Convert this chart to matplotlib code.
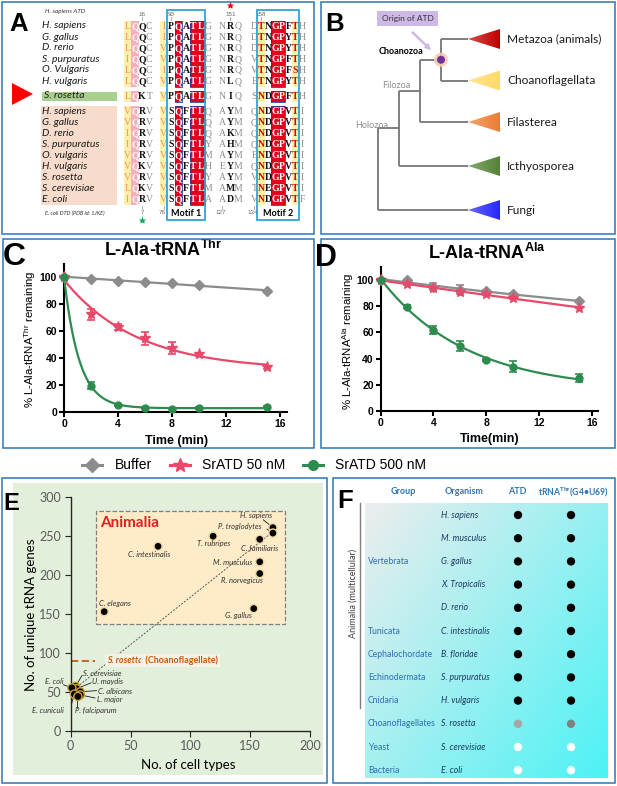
import numpy as np
import matplotlib
matplotlib.use("Agg")
import matplotlib.pyplot as plt
from matplotlib.colors import to_rgb
from matplotlib.patches import Circle, FancyArrowPatch, Polygon, Rectangle

plt.rcParams["font.family"] = ["Liberation Sans", "DejaVu Sans"]
plt.rcParams["mathtext.fontset"] = "custom"
plt.rcParams["mathtext.rm"] = "Liberation Sans"
plt.rcParams["mathtext.bf"] = "Liberation Sans:bold"

W, H = 617, 786
SOFT = ["Lato", "DejaVu Sans"]

# ---------------- A: ATD / DTD alignment ----------------
atd_species = ["H. sapiens", "G. gallus", "D. rerio", "S. purpuratus", "O. Vulgaris", "H. vulgaris"]
atd_seqs = [
    "LQQC IPQATLG NRQ DTNGPFTH",
    "LQQC IPQATLG NRQ DTNGPYTH",
    "LQQC VPQATLG NRQ DTNGPYTH",
    "IQQC VPQATLG NRQ VTNGPFTH",
    "LQQC IPQATLG NRQ VTNGPFSH",
    "LQQC VPQATLG NLQ ETNGPYTH",
]
rosetta_atd_seq = "LQKT VPQATLG NIQ SNDGPFTH"
dtd_species = ["H. sapiens", "G. gallus", "D. rerio", "S. purpuratus", "O. vulgaris",
               "H. vulgaris", "S. rosetta", "S. cerevisiae", "E. coli"]
dtd_seqs = [
    "VQRV VSQFTLQ AYM QNDGPVTI",
    "VQRV VSQFTLQ AYM QNDGPVTI",
    "IQRV VSQFTLQ AKM QNDGPVTI",
    "IQRV VSQFTLY AHM QNDGPVTI",
    "VQRV VSQFTLM AYM ENDGPVTI",
    "VQKV VSQFTLH EYM QNDGPVTI",
    "VQRV VSQFTLY AYM VNDGPVTI",
    "LQKV VSQFTLM AMM TNEGPVTI",
    "IQRV VSQFTLA ADM VNDGPVTF",
]
# y = similar (yellow), Y = similar strong, p = pink, r = identical (red), k = bold, g = grey
col_styles = ["ypkg", "ykrkrrg", "gkg", "gYkrrkYg"]
atd_numbers = ["16", "90", "151", "158"]
dtd_numbers = ["7", "76", "127", "134"]
motif_labels = ["Motif 1", "Motif 2"]

# ---------------- B: tree ----------------
clades = ["Metazoa (animals)", "Choanoflagellata", "Filasterea", "Icthyosporea", "Fungi"]
clade_colors = ["#C00000", "#FFD966", "#ED7D31", "#548235", "#2626FF"]
clade_tree = ((((0, 1), 2), 3), 4)

# ---------------- C / D: deacylation ----------------
series_names = ["Buffer", "SrATD 50 nM", "SrATD 500 nM"]
series_colors = ["#8C8C8C", "#E8486A", "#2E8B4E"]
series_markers = ["D", "*", "o"]
time_min = [0, 2, 4, 6, 8, 10, 15]
thr_buffer = [100, 98.8, 97.2, 96.3, 95.6, 93.8, 89.6]
thr_buffer_err = [0, 0, 0, 0, 0, 0, 0]
thr_50 = [100, 72.5, 63.0, 54.5, 47.5, 42.7, 33.0]
thr_50_err = [0, 4.0, 2.0, 4.5, 4.5, 1.0, 1.0]
thr_500 = [100, 19.5, 5.0, 3.0, 2.5, 3.0, 3.8]
thr_500_err = [0, 2.5, 0.8, 0.5, 0.5, 0.5, 0.5]
ala_buffer = [100, 100, 95.0, 92.5, 91.5, 89.3, 84.0]
ala_buffer_err = [0, 0, 3.0, 3.5, 0.8, 0.8, 0.8]
ala_50 = [100, 96.8, 93.6, 91.0, 89.2, 86.0, 79.0]
ala_50_err = [0, 0.5, 0.5, 0.5, 0.5, 0.5, 0.5]
ala_500 = [100, 79.6, 62.0, 49.6, 38.9, 33.8, 25.0]
ala_500_err = [0, 1.0, 3.0, 3.5, 1.0, 4.0, 3.0]

# ---------------- E: cell types vs tRNA genes ----------------
e_names = ["H. sapiens", "P. troglodytes", "C. familiaris", "M. musculus", "R. norvegicus",
           "G. gallus", "T. rubripes", "C. intestinalis", "C. elegans", "S. cerevisiae",
           "U. maydis", "E. coli", "C. albicans", "L. major", "E. cuniculi", "P. falciparum"]
e_cell_types = [169, 169, 158, 158, 158, 153, 119, 73, 28, 4, 5, 1, 8, 8, 3, 6]
e_trna_genes = [261, 254, 246, 217, 202, 157, 250, 237, 153, 57, 54, 55, 50, 46, 47, 44]
rosetta_trna_genes = 90
rosetta_cell_types = 20
trend_x = [1, 170]
trend_y = [51, 257]

# ---------------- F: presence table ----------------
f_groups = ["", "", "Vertebrata", "", "", "Tunicata", "Cephalochordate", "Echinodermata",
            "Cnidaria", "Choanoflagellates", "Yeast", "Bacteria"]
f_organisms = ["H. sapiens", "M. musculus", "G. gallus", "X. Tropicalis", "D. rerio",
               "C. intestinalis", "B. floridae", "S. purpuratus", "H. vulgaris",
               "S. rosetta", "S. cerevisiae", "E. coli"]
f_atd = [1, 1, 1, 1, 1, 1, 1, 1, 1, 0.35, 0, 0]
f_trna = [1, 1, 1, 1, 1, 1, 1, 1, 1, 0.5, 0, 0]


def px_axes(fig, left, top, right, bottom):
    return fig.add_axes([left / W, 1 - bottom / H, (right - left) / W, (bottom - top) / H])


def fit_decay(t, y):
    t = np.asarray(t, float)
    y = np.asarray(y, float)
    best = None
    for k in np.linspace(0.002, 3.0, 1500):
        basis = np.column_stack([np.ones_like(t), np.exp(-k * t)])
        coef = np.linalg.lstsq(basis, y, rcond=None)[0]
        sse = np.sum((basis @ coef - y) ** 2)
        if best is None or sse < best[0]:
            best = (sse, k, coef)
    return best[1], best[2]


def gradient_triangle(ax, x_tip, x_base, yc, half, color):
    rgb = np.array(to_rgb(color))
    light = rgb + (1 - rgb) * 0.3
    ramp = np.linspace(0, 1, 64)[None, :, None]
    img = np.repeat(light + (rgb - light) * ramp, 2, axis=0)
    tri = Polygon([(x_tip, yc), (x_base, yc - half), (x_base, yc + half)], closed=True,
                  fc="none", ec="none")
    ax.add_patch(tri)
    im = ax.imshow(img, extent=(x_tip, x_base, yc + half, yc - half), aspect="auto",
                   zorder=3, interpolation="bilinear")
    im.set_clip_path(tri)


def kinetics_panel(ax, series, errors):
    tt = np.linspace(0, 15, 300)
    for vals, errs, color, marker in zip(series, errors, series_colors, series_markers):
        k, coef = fit_decay(time_min, vals)
        ax.plot(tt, coef[0] + coef[1] * np.exp(-k * tt), color=color, lw=1.6, zorder=3)
        ax.errorbar(time_min, vals, yerr=errs, fmt="none", ecolor=color, elinewidth=1.2,
                    capsize=3, capthick=1.2, zorder=4, clip_on=False)
        ms = 8 if marker == "*" else 5
        ax.plot(time_min, vals, ls="none", marker=marker, ms=ms, color=color,
                mec=color, zorder=5, clip_on=False)
    ax.set_xlim(0, 16.5)
    ax.set_ylim(0, 110)
    ax.set_xticks([0, 4, 8, 12, 16])
    ax.set_yticks([0, 20, 40, 60, 80, 100])
    ax.set_facecolor("none")
    for s in ["top", "right"]:
        ax.spines[s].set_visible(False)
    for s in ["left", "bottom"]:
        ax.spines[s].set_linewidth(1.5)
    ax.tick_params(width=1.5, length=3.5, labelsize=7.5, pad=1.5)
    for lab in ax.get_xticklabels() + ax.get_yticklabels():
        lab.set_fontweight("bold")


fig = plt.figure(figsize=(W / 100, H / 100), dpi=100)
ov = fig.add_axes([0, 0, 1, 1])
ov.axis("off")

# panel frames
for x0, y0, x1, y1 in [(2, 2, 314, 234), (321, 2, 615, 234), (3, 239, 314, 448),
                       (321, 239, 615, 448), (2, 478, 327, 783), (333, 478, 615, 783)]:
    ov.add_patch(Rectangle((x0, y0), x1 - x0, y1 - y0, fc="none", ec="#2E75B6", lw=1.1, zorder=10))

for letter, x, y, size in [("A", 19, 24, 18.5), ("B", 335, 24, 18.5), ("C", 14, 257, 23),
                           ("D", 325.5, 257.5, 22), ("E", 11.5, 503, 17), ("F", 345, 501.5, 18.5)]:
    ov.text(x, y, letter, fontsize=size, fontweight="bold", ha="center", va="center", zorder=11)

# ---------------- A ----------------
block_c0 = [127.7, 163.8, 222.3, 254.3]
block_pitch = [7.2, 7.4, 8.0, 6.85]
style_map = {
    "y": ("#FFF2A8", "#F2915E", "normal"),
    "Y": ("#FFF2A8", "#D80000", "bold"),
    "p": ("#F6AEBB", "#FFFFFF", "bold"),
    "r": ("#E3001B", "#FFFFFF", "bold"),
    "k": (None, "#111111", "bold"),
    "g": (None, "#8C8C8C", "normal"),
}


def col_x(b, c):
    return block_c0[b] + c * block_pitch[b]


def draw_row(seq, yc, h=11.0):
    for b, block in enumerate(seq.split()):
        pw = block_pitch[b]
        for c, ch in enumerate(block):
            bg, fc, fw = style_map[col_styles[b][c]]
            x = col_x(b, c)
            if bg:
                ov.add_patch(Rectangle((x - pw / 2, yc - h / 2), pw, h, fc=bg, ec="none", zorder=1))
            ov.text(x, yc + 0.5, ch, fontsize=7, family="Liberation Serif", fontweight=fw,
                    color=fc, ha="center", va="center", zorder=3)


def frame_red(y_top, y_bot):
    for b, styles in enumerate(col_styles):
        c = 0
        while c < len(styles):
            if styles[c] == "r":
                c1 = c
                while c1 + 1 < len(styles) and styles[c1 + 1] == "r":
                    c1 += 1
                pw = block_pitch[b]
                x0 = col_x(b, c) - pw / 2
                ov.add_patch(Rectangle((x0, y_top), col_x(b, c1) + pw / 2 - x0, y_bot - y_top,
                                       fc="none", ec="#1F3F8F", lw=0.6, zorder=2))
                c = c1 + 1
            else:
                c += 1


atd_y = [26 + 11 * i for i in range(len(atd_species))]
rosetta_y = 96
dtd_y = [111 + 11.03 * i for i in range(len(dtd_species))]

ov.add_patch(Rectangle((41, 105.5), 76, 99.5, fc="#F8DCCB", ec="none", zorder=0.5))
ov.add_patch(Rectangle((42, 91.5), 75, 9.5, fc="#A9D08E", ec="none", zorder=0.5))
ov.add_patch(Polygon([(12, 83), (12, 105), (33, 94)], closed=True, fc="#FF0000", ec="none"))
ov.text(45, 12, "H. sapiens ATD", fontsize=4.5, style="italic", family=SOFT, va="center", color="#333333")
ov.text(45, 213, "E. coli DTD (PDB id: 1JKE)", fontsize=4, style="italic", family=SOFT, va="center",
        color="#333333")

for name, seq, y in zip(atd_species, atd_seqs, atd_y):
    ov.text(42, y, name, fontsize=7.5, style="italic", family=SOFT, va="center", color="#1A1A1A")
    draw_row(seq, y)
ov.text(44, rosetta_y, "S. rosetta", fontsize=7.5, style="italic", family=SOFT, va="center", color="#1A1A1A")
draw_row(rosetta_atd_seq, rosetta_y)
for name, seq, y in zip(dtd_species, dtd_seqs, dtd_y):
    ov.text(42, y, name, fontsize=7.5, style="italic", family=SOFT, va="center", color="#1A1A1A")
    draw_row(seq, y)
frame_red(atd_y[0] - 5.5, atd_y[-1] + 5.5)
frame_red(rosetta_y - 5.5, rosetta_y + 5.5)
frame_red(dtd_y[0] - 5.5, dtd_y[-1] + 5.5)

num_cols = [(0, 2), (1, 1), (2, 1), (3, 1)]
bottom_cols = [(0, 2), (1, 0), (2, 0), (3, 0)]
for label, (b, c) in zip(atd_numbers, num_cols):
    ov.text(col_x(b, c), 14, label, fontsize=4.5, color="#666666", ha="center", va="center")
    ov.plot([col_x(b, c)] * 2, [17, 19.5], color="#888888", lw=0.5)
for label, (b, c) in zip(dtd_numbers, bottom_cols):
    ov.text(col_x(b, c) - (2 if c == 0 else 0), 213, label, fontsize=4.5, color="#666666",
            ha="center", va="center")
    ov.plot([col_x(b, c)] * 2, [206, 208.5], color="#888888", lw=0.5)
ov.plot(col_x(2, 1), 5, marker="*", ms=6, color="#E8001C", mec="none")
ov.plot(col_x(0, 2), 220, marker="*", ms=6, color="#00B050", mec="none")

for (b, c0, c1), label in zip([(1, 1, 5), (3, 1, 6)], motif_labels):
    pw = block_pitch[b]
    x0 = col_x(b, c0) - pw / 2 - 0.5
    x1 = col_x(b, c1) + pw / 2 + 0.5
    ov.add_patch(Rectangle((x0, 10), x1 - x0, 210, fc="none", ec="#2EA3DC", lw=1.3, zorder=4))
    ov.text((x0 + x1) / 2, 213, label, fontsize=6.5, fontweight="bold", family=SOFT,
            ha="center", va="center", zorder=5)

# ---------------- B ----------------
leaf_y = [39, 80.5, 122, 166, 210]
tree_x0, tree_dx, leaf_x = 378, 21, 468


def draw_clade(node, depth):
    x = tree_x0 + depth * tree_dx
    if isinstance(node, int):
        return leaf_y[node], leaf_x
    kids = [draw_clade(child, depth + 1) for child in node]
    ys = [k[0] for k in kids]
    ov.plot([x, x], [min(ys), max(ys)], color="#7F7F7F", lw=1.4, zorder=2, solid_capstyle="butt")
    for cy, cx in kids:
        ov.plot([x, cx], [cy, cy], color="#7F7F7F", lw=1.4, zorder=2, solid_capstyle="butt")
    return float(np.mean(ys)), x


draw_clade(clade_tree, 0)
for name, color, y in zip(clades, clade_colors, leaf_y):
    gradient_triangle(ov, leaf_x, 500, y, 10, color)
    ov.text(507, y, name, fontsize=8.6, family=SOFT, va="center", color="#1A1A1A")

node_y = (leaf_y[0] + leaf_y[1]) / 2
node_x = tree_x0 + 3 * tree_dx
ov.add_patch(Circle((node_x, node_y), 7, fc="#F8CBAD", ec="none", alpha=0.9, zorder=4))
ov.add_patch(Circle((node_x, node_y), 4, fc="#7030A0", ec="none", zorder=5))
ov.text(423, 52, "Choanozoa", fontsize=6.5, fontweight="bold", family=SOFT, ha="right", va="center")
ov.text(396, 85, "Filozoa", fontsize=6.5, family=SOFT, ha="center", va="center", color="#8C8C8C")
ov.text(372, 126, "Holozoa", fontsize=6.5, family=SOFT, ha="center", va="center", color="#8C8C8C")
ov.text(407.5, 18.5, "Origin of ATD", fontsize=6, family=SOFT, ha="center", va="center", color="#333333",
        bbox=dict(boxstyle="square,pad=0.5", fc="#CDB8E6", ec="none"))
ov.add_patch(FancyArrowPatch((410, 30), (433, 52), arrowstyle="simple,head_width=5,head_length=5,tail_width=1.8",
                             color="#CDB9E3", lw=0, zorder=3))

# ---------------- legend ----------------
for name, color, marker, x0, xt in zip(series_names, series_colors, series_markers,
                                        [82, 170, 303], [115, 202, 335]):
    ov.plot([x0, x0 + 20], [465, 465], color=color, lw=2.2)
    ov.plot(x0 + 10, 465, marker=marker, ms=10 if marker == "*" else 7, color=color, mec=color)
    ov.text(xt, 465, name, fontsize=10, va="center", ha="left")

# ---------------- E background ----------------
ov.add_patch(Rectangle((13, 483), 310, 292, fc="#E2EFDA", ec="none", zorder=0.2))

# ---------------- F ----------------
f_x0, f_x1, f_y0, f_y1 = 365, 608, 503, 778
gx, gy = np.meshgrid(np.linspace(0, 1, 240), np.linspace(0, 1, 240))
tmix = (0.55 * gx + 0.45 * gy)[..., None]
c_start = np.array([0.93, 0.93, 0.93])
c_end = np.array([0.30, 0.95, 0.96])
ov.imshow(c_start + (c_end - c_start) * tmix, extent=(f_x0, f_x1, f_y1, f_y0), aspect="auto",
          zorder=0.3, interpolation="bilinear")
for label, x in [("Group", 403), ("Organism", 464), ("ATD", 517)]:
    ov.text(x, 492, label, fontsize=6.5, fontweight="bold", family=SOFT, color="#2E75B6",
            ha="center", va="center")
ov.text(573, 492, r"tRNA$^{\mathbf{Thr}}$(G4•U69)", fontsize=6.2, fontweight="bold", family=SOFT,
        color="#2E75B6", ha="center", va="center")
row_y = [515 + 23.2 * i for i in range(len(f_organisms))]
for grp, org, a, t, y in zip(f_groups, f_organisms, f_atd, f_trna, row_y):
    if grp:
        ov.text(368, y, grp, fontsize=6.2, family=SOFT, color="#2E6DB4", va="center")
    ov.text(441, y, org, fontsize=6.3, style="italic", family=SOFT, color="#1F3864", va="center")
for xcol, vals in [(518, f_atd), (571, f_trna)]:
    ov.scatter([xcol] * len(vals), row_y, s=36, c=[[1 - v] * 3 for v in vals], edgecolors="none", zorder=4)
ov.plot([360, 360], [503, 708], color="#7F7F7F", lw=1)
ov.text(353, 593, "Animalia (multicellular)", fontsize=6.5, family=SOFT, color="#404040",
        rotation=90, ha="center", va="center")

ov.set_xlim(0, W)
ov.set_ylim(H, 0)

# ---------------- C ----------------
axC = px_axes(fig, 64, 263.5, 286.75, 412)
kinetics_panel(axC, [thr_buffer, thr_50, thr_500], [thr_buffer_err, thr_50_err, thr_500_err])
axC.set_ylabel(r"% L-Ala-tRNA$^{\mathrm{Thr}}$ remaining", fontsize=8.2)
axC.set_xlabel("Time (min)", fontsize=9, fontweight="bold")
axC.yaxis.set_label_coords(-0.15, 0.49)
axC.xaxis.set_label_coords(0.507, -0.195)
axC.yaxis.label.set_va("center")
axC.xaxis.label.set_va("center")
ov.text(163, 250, r"L-Ala-tRNA$^{\mathbf{Thr}}$", fontsize=13, fontweight="bold", ha="center", va="center")

# ---------------- D ----------------
axD = px_axes(fig, 380.7, 266.9, 598.3, 411)
kinetics_panel(axD, [ala_buffer, ala_50, ala_500], [ala_buffer_err, ala_50_err, ala_500_err])
axD.set_ylabel(r"% L-Ala-tRNA$^{\mathrm{Ala}}$ remaining", fontsize=8.2)
axD.set_xlabel("Time(min)", fontsize=9, fontweight="bold")
axD.yaxis.set_label_coords(-0.152, 0.48)
axD.xaxis.set_label_coords(0.502, -0.194)
axD.yaxis.label.set_va("center")
axD.xaxis.label.set_va("center")
ov.text(487, 253, r"L-Ala-tRNA$^{\mathbf{Ala}}$", fontsize=13, fontweight="bold", ha="center", va="center")

# ---------------- E ----------------
axE = px_axes(fig, 70.7, 497.3, 310, 730.7)
axE.set_facecolor("none")
axE.set_xlim(0, 200)
axE.set_ylim(0, 300)
axE.set_xticks([0, 50, 100, 150, 200])
axE.set_yticks([0, 50, 100, 150, 200, 250, 300])
for s in ["top", "right"]:
    axE.spines[s].set_visible(False)
for s in ["left", "bottom"]:
    axE.spines[s].set_color("#262626")
    axE.spines[s].set_linewidth(1.0)
axE.tick_params(labelsize=9, labelcolor="#595959", color="#262626", length=4, pad=3,
                labelfontfamily="Lato")
axE.set_xlabel("No. of cell types", fontsize=9.5, family=SOFT)
axE.set_ylabel("No. of unique tRNA genes", fontsize=9.5, family=SOFT)
axE.xaxis.set_label_coords(0.49, -0.147)
axE.yaxis.set_label_coords(-0.165, 0.496)
axE.xaxis.label.set_va("center")
axE.yaxis.label.set_va("center")

axE.add_patch(Rectangle((21, 137), 158, 145.4, fc="#FEEBC8", ec="#7F7F7F", ls="--", lw=0.9, zorder=0.5))
axE.text(24.5, 267, "Animalia", fontsize=11, fontweight="bold", family=SOFT, color="#E02020", va="center")
axE.plot(trend_x, trend_y, ls=(0, (2, 1.5)), color="#595959", lw=0.7, zorder=1)
axE.plot([0, rosetta_cell_types], [rosetta_trna_genes] * 2, ls=(0, (4, 2)), color="#C55A11", lw=1.3, zorder=1)
t1 = axE.text(30.3, rosetta_trna_genes, "S. rosetta", fontsize=6.5, style="italic", fontweight="bold",
              family=SOFT, color="#C55A11", va="center",
              bbox=dict(boxstyle="square,pad=0.2", fc="#F4F1E6", ec="none"))
axE.annotate(" (Choanoflagellate)", xy=(1, 0.5), xycoords=t1, va="center", fontsize=6.5, fontweight="bold",
             family=SOFT, color="#C55A11", bbox=dict(boxstyle="square,pad=0.2", fc="#F4F1E6", ec="none"))

cluster = [n in ("S. cerevisiae", "U. maydis", "E. coli", "C. albicans", "L. major", "E. cuniculi",
                 "P. falciparum") for n in e_names]
axE.scatter(e_cell_types, e_trna_genes, s=34, c="black",
            edgecolors=["#C9A030" if c else "#F0D9A0" for c in cluster], linewidths=1.0, zorder=3,
            clip_on=False)

e_label_xy = [(154.7, 276), (141.5, 263), (157.5, 235), (135.5, 216.4), (142.9, 193.7), (140.5, 147.8),
              (119.5, 240.9), (65.6, 227), (36.6, 163.7), (26.6, 73.8), (30.8, 63), (-13.8, 63),
              (36.9, 51), (32.8, 39.5), (-18.7, 25.7), (20.9, 25.7)]
e_leader_from = [(161, 271), (164, 259), None, None, None, None, None, None, None, (9.5, 71),
                 (17, 61.5), (-6, 59), (21.5, 51.5), (20.3, 42), (0.8, 35), (5.5, 29)]
for name, x, y, (lx, ly), lead in zip(e_names, e_cell_types, e_trna_genes, e_label_xy, e_leader_from):
    axE.text(lx, ly, name, fontsize=5.5, style="italic", family=SOFT, color="#333333",
             ha="center", va="center", zorder=4)
    if lead:
        axE.plot([lead[0], x], [lead[1], y], color="#1A1A1A", lw=0.6, zorder=2, clip_on=False)

fig.savefig("out.png", dpi=100)
